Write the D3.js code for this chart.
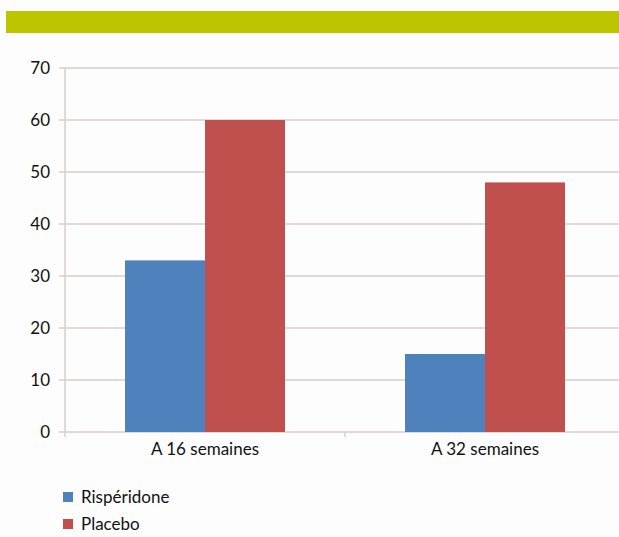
<!DOCTYPE html>
<html lang="fr">
<head>
<meta charset="UTF-8">
<script src="https://d3js.org/d3.v7.min.js"></script>
<style>
  body { margin: 0; background: #fdfdfd; }
  svg { display: block; font-family: Lato, "Open Sans", sans-serif; }
</style>
</head>
<body>
<svg id="chart" width="619" height="537"></svg>
<script>
  // data
  const categories = ["A 16 semaines", "A 32 semaines"];
  const seriesNames = ["Rispéridone", "Placebo"];
  const risperidone = [33, 15];
  const placebo = [60, 48];
  const yTicks = [0, 10, 20, 30, 40, 50, 60, 70];
  const colors = ["#4f81bd", "#c0504d"];

  const svg = d3.select("#chart");

  // green header band
  svg.append("rect")
    .attr("x", 6).attr("y", 11)
    .attr("width", 613).attr("height", 22)
    .attr("fill", "#bdc400");

  const margin = { left: 65, top: 68 };
  const plotRight = 625;
  const plotBottom = 432;
  const gridColor = "#d9cdcd";

  const x = d3.scaleBand().domain(categories).range([margin.left, plotRight]);
  const xSeries = d3.scaleBand().domain(seriesNames)
    .range([0, x.bandwidth()]).paddingInner(0).paddingOuter(0.75);
  const y = d3.scaleLinear().domain([0, 70]).range([plotBottom, margin.top]);

  // gridlines
  svg.append("g")
    .selectAll("line")
    .data(yTicks)
    .join("line")
    .attr("x1", margin.left - 6)
    .attr("x2", 619)
    .attr("y1", d => y(d))
    .attr("y2", d => y(d))
    .attr("stroke", gridColor)
    .attr("stroke-width", 1.5);

  // y axis line
  svg.append("line")
    .attr("x1", margin.left).attr("x2", margin.left)
    .attr("y1", margin.top).attr("y2", plotBottom + 5)
    .attr("stroke", gridColor).attr("stroke-width", 1.5);

  // y labels
  svg.append("g")
    .selectAll("text")
    .data(yTicks)
    .join("text")
    .attr("x", 50)
    .attr("y", d => y(d))
    .attr("dy", "0.35em")
    .attr("text-anchor", "end")
    .attr("font-size", 17)
    .attr("fill", "#111")
    .text(d => d);

  // bars
  const rows = categories.map((c, i) => ({ cat: c, values: [risperidone[i], placebo[i]] }));
  const groups = svg.append("g")
    .selectAll("g")
    .data(rows)
    .join("g")
    .attr("transform", d => `translate(${x(d.cat)},0)`);

  groups.selectAll("rect")
    .data(d => d.values.map((v, j) => ({ name: seriesNames[j], v, j })))
    .join("rect")
    .attr("x", d => xSeries(d.name))
    .attr("width", xSeries.bandwidth())
    .attr("y", d => y(d.v))
    .attr("height", d => plotBottom - y(d.v))
    .attr("fill", d => colors[d.j]);

  // category ticks
  svg.append("g")
    .selectAll("line")
    .data(categories.slice(1))
    .join("line")
    .attr("x1", d => x(d)).attr("x2", d => x(d))
    .attr("y1", plotBottom).attr("y2", plotBottom + 5)
    .attr("stroke", gridColor).attr("stroke-width", 1.5);

  // category labels
  svg.append("g")
    .selectAll("text")
    .data(categories)
    .join("text")
    .attr("x", d => x(d) + x.bandwidth() / 2)
    .attr("y", 455)
    .attr("text-anchor", "middle")
    .attr("font-size", 17)
    .attr("fill", "#111")
    .text(d => d);

  // legend
  const legend = svg.append("g")
    .selectAll("g")
    .data(seriesNames)
    .join("g")
    .attr("transform", (d, i) => `translate(63,${492 + i * 27})`);
  legend.append("rect")
    .attr("width", 10).attr("height", 10)
    .attr("fill", (d, i) => colors[i]);
  legend.append("text")
    .attr("x", 18).attr("y", 11)
    .attr("font-size", 17)
    .attr("fill", "#111")
    .text(d => d);
</script>
</body>
</html>
